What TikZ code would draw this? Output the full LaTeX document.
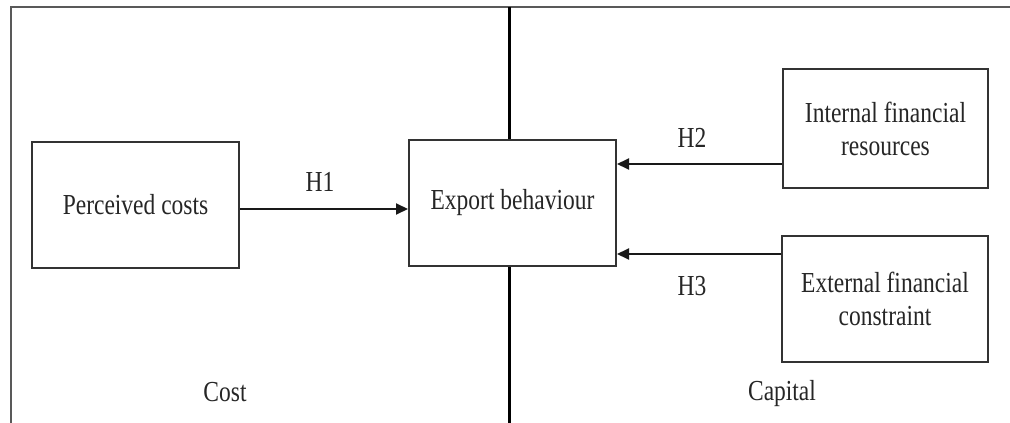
\documentclass[tikz,border=0pt]{standalone}
\usepackage{fontspec}
\setmainfont[FakeStretch=0.81]{Liberation Serif}
\usetikzlibrary{arrows.meta}
\begin{document}
\begin{tikzpicture}[x=1pt,y=1pt,
  box/.style={draw=black!80, line width=2pt, fill=white, inner sep=0pt,
    font=\fontsize{29}{33}\selectfont, text=black!85, align=center},
  lbl/.style={font=\fontsize{29}{33}\selectfont, text=black!85, inner sep=0pt, anchor=base},
  arr/.style={line width=2pt, draw=black!90, -{Triangle[length=12pt,width=11pt]}}]
\useasboundingbox (0,0) rectangle (1010,-423);

% outer frame (top and left sides)
\coordinate (ftr) at (1010,-7);
\coordinate (ftl) at (11,-7);
\coordinate (fbl) at (11,-423);
\draw[line width=2.8pt, draw=black!65] (ftr) -- (ftl) -- (fbl);

% boxes
\node[box, minimum width=207pt, minimum height=126pt] (pc) at (135.5,-205) {Perceived costs};
\node[box, minimum width=207pt, minimum height=126pt] (eb) at (512.5,-203) {Export behaviour};
\node[box, minimum width=205pt, minimum height=119pt] (ifr) at (885.5,-128.5) {Internal financial\\resources};
\node[box, minimum width=206pt, minimum height=126pt] (efc) at (885,-299) {External financial\\constraint};

% dividing line between the two sides
\coordinate (vt) at (509,-7);
\coordinate (vb) at (509,-423);
\draw[line width=3pt] (vt) -- (vt |- eb.north);
\draw[line width=3pt] (eb.south -| vt) -- (vb);

% hypotheses
\draw[arr] ([yshift=-4pt]pc.east) -- ([yshift=-4pt]pc.east -| eb.west);
\draw[arr] ([yshift=-35.5pt]ifr.west) -- ([yshift=-35.5pt]ifr.west -| eb.east);
\draw[arr] ([yshift=45pt]efc.west) -- ([yshift=45pt]efc.west -| eb.east);

\node[lbl] (h1) at (320,-191) {H1};
\node[lbl] (h2) at (692,-147) {H2};
\node[lbl] (h3) at (692,-295) {H3};
\node[lbl] (cost) at (225,-401) {Cost};
\node[lbl] (capital) at (782,-400) {Capital};
\end{tikzpicture}
\end{document}
